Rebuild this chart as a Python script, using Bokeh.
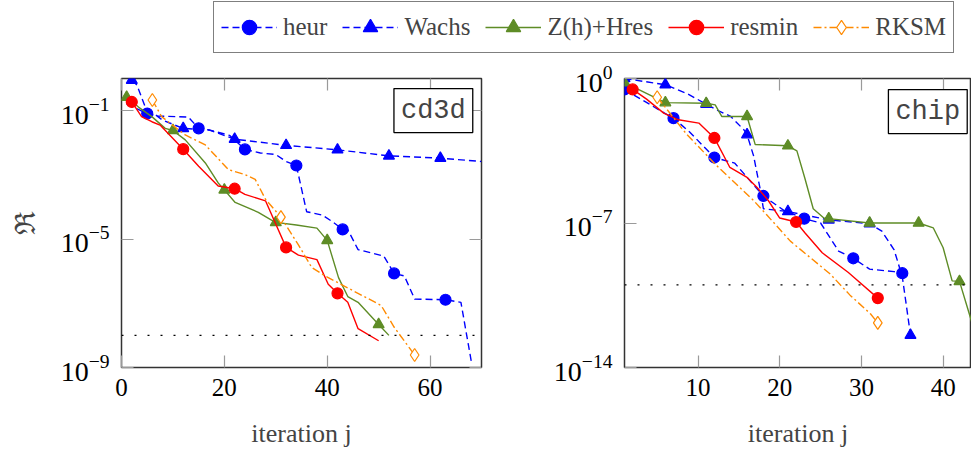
from bokeh.plotting import figure
from bokeh.models import (Legend, LegendItem, FixedTicker, LinearAxis, LogAxis,
                          Span, Label, CustomJSTickFormatter)
from bokeh.layouts import column, row
from bokeh.embed import file_html
from bokeh.resources import INLINE

# ---------------- data: cd3d (left panel) ----------------
heur_L_x = [1, 5, 7, 13, 15, 17, 21, 24, 27, 30, 32, 34, 36, 39, 41, 43, 44, 46, 51, 53, 55, 57, 63, 66, 68]
heur_L_y = [1.6e-1, 8.1e-2, 6.8e-2, 6.3e-2, 2.8e-2, 2.5e-2, 1.7e-2, 6.2e-3, 4.8e-3, 4.3e-3, 2.6e-3, 1.95e-3,
            7.1e-5, 5.6e-5, 3.5e-5, 2.0e-5, 1.95e-5, 4.7e-6, 2.95e-6, 8.5e-7, 7.1e-7, 1.35e-7, 1.29e-7, 1.07e-7, 1.6e-9]
heur_L_marks = [5, 15, 24, 34, 43, 53, 63]

wachs_L_x = [2, 3, 4.6, 8, 12, 17, 22, 32, 42, 52, 62, 70]
wachs_L_y = [8.9e-1, 6.3e-1, 1.32e-1, 5.0e-2, 2.8e-2, 2.5e-2, 1.29e-2, 8.3e-3, 6.0e-3, 3.9e-3, 3.3e-3, 2.6e-3]
wachs_L_marks = [2, 12, 22, 32, 42, 52, 62]

zh_L_x = [1, 3.3, 5.9, 8.5, 10, 12.4, 16.3, 18.8, 20, 22.1, 26.6, 29, 30, 34, 38, 40, 42.2, 44, 46, 50, 52]
zh_L_y = [2.63e-1, 1.29e-1, 6.5e-2, 2.8e-2, 2.4e-2, 1.23e-2, 2.34e-3, 5.6e-4, 3.4e-4, 1.38e-4, 6.8e-5, 4.0e-5,
          3.3e-5, 2.75e-5, 2.19e-5, 9.1e-6, 6.3e-7, 1.62e-7, 1.07e-7, 2.19e-8, 1.0e-8]
zh_L_marks = [1, 10, 20, 30, 40, 50]

resmin_L_x = [2, 3.9, 5.9, 7.5, 12, 15, 18.8, 22, 24, 28, 32, 34.4, 38, 40.2, 42, 44, 46, 50]
resmin_L_y = [1.86e-1, 6.5e-2, 4.5e-2, 3.55e-2, 6.3e-3, 1.86e-3, 4.5e-4, 3.7e-4, 2.45e-4, 1.55e-4, 5.5e-6,
              3.16e-6, 2.29e-6, 3.9e-7, 2.04e-7, 1.07e-7, 1.62e-8, 6.8e-9]
resmin_L_marks = [2, 12, 22, 32, 42]

rksm_L_x = [6, 7.8, 12.4, 16.3, 20.8, 24, 26, 28, 31, 34.4, 37, 39.6, 50.5, 53, 57]
rksm_L_y = [2.14e-1, 6.5e-2, 1.74e-2, 8.5e-3, 1.45e-3, 1.02e-3, 7.2e-4, 1.74e-4, 4.8e-5, 6.6e-6, 1.29e-6,
            7.1e-7, 8.5e-8, 1.82e-8, 2.45e-9]
rksm_L_marks = [6, 31, 57]

tol_L = 1e-8

# ---------------- data: chip (right panel) ----------------
heur_R_x = [1, 3, 6, 7, 9, 12, 14.5, 18, 20.5, 23, 25, 27.2, 29, 31, 34, 35]
heur_R_y = [2.95e-1, 1.0e-1, 2.0e-2, 1.2e-2, 2.5e-3, 1.48e-4, 7.9e-5, 2.04e-6, 4.1e-7, 1.62e-7, 1.0e-7,
            4.4e-9, 1.95e-9, 5.8e-10, 4.4e-10, 3.7e-10]
heur_R_marks = [1, 7, 12, 18, 23, 29, 35]

wachs_R_x = [1, 6, 8.6, 11, 12.3, 14, 15.6, 16, 16.8, 17.6, 18, 21, 26, 31, 32.5, 34, 35, 35.5, 36]
wachs_R_y = [1.0, 5.0e-1, 1.9e-1, 5.75e-2, 3.0e-2, 1.45e-2, 3.3e-3, 1.9e-3, 1.78e-4, 4.5e-6, 4.9e-7, 3.6e-7,
             1.41e-7, 9.3e-8, 4.0e-8, 5.0e-9, 2.5e-10, 1.0e-11, 3.7e-13]
wachs_R_marks = [1, 6, 11, 16, 21, 26, 31, 36]

zh_R_x = [1, 6, 11, 12.1, 12.9, 16, 17, 21, 22.1, 23.1, 24.1, 25.4, 26, 31, 37, 38.8, 40, 41.1, 42, 43.5]
zh_R_y = [6.3e-1, 6.8e-2, 6.3e-2, 5.25e-2, 1.45e-2, 1.45e-2, 6.3e-4, 5.5e-4, 3.1e-4, 1.35e-5, 4.9e-7,
          1.74e-7, 1.62e-7, 1.0e-7, 1.0e-7, 5.75e-8, 6.3e-9, 1.58e-10, 1.48e-10, 1.6e-12]
zh_R_marks = [1, 6, 11, 16, 21, 26, 31, 37, 42]

resmin_R_x = [2, 3.7, 5.8, 7.6, 10.1, 12, 13.9, 16, 17.2, 18.6, 20, 22, 23.1, 25.2, 28.4, 29.1, 32]
resmin_R_y = [2.95e-1, 1.0e-1, 2.1e-2, 1.0e-2, 6.9e-3, 1.32e-3, 4.9e-5, 1.62e-5, 5.4e-6, 1.23e-6, 1.74e-7,
              1.12e-7, 3.3e-8, 3.6e-9, 4.0e-10, 2.3e-10, 2.3e-11]
resmin_R_marks = [2, 12, 22, 32]

rksm_R_x = [5, 6.2, 8.6, 12.3, 16.8, 18.4, 21.3, 26.2, 28.6, 31.1, 32]
rksm_R_y = [1.23e-1, 3.16e-2, 2.0e-3, 5.9e-5, 1.23e-6, 2.5e-7, 1.32e-8, 3.3e-10, 3.2e-11, 4.0e-12, 1.45e-12]
rksm_R_marks = [5, 32]

tol_R = 1e-10

series_names = ["heur", "Wachs", "Z(h)+Hres", "resmin", "RKSM"]
left_ticks_x = [0, 20, 40, 60]
left_ticks_y = [1e-9, 1e-5, 1e-1]
right_ticks_x = [10, 20, 30, 40]
right_ticks_y = [1e-14, 1e-7, 1]

# ---------------- styles ----------------
SERIF = "Liberation Serif"
MONO = "Liberation Mono"
BLUE = "#0000ff"
GREEN = "#5e8c26"
RED = "#ff0000"
ORANGE = "#ff8a00"
TICK = "#9a9a9a"

STYLES = [
    dict(color=BLUE, dash="7 4", width=1.4, marker="circle", size=11, fill=BLUE),
    dict(color=BLUE, dash="7 4", width=1.4, marker="triangle", size=11, fill=BLUE),
    dict(color=GREEN, dash="solid", width=1.4, marker="triangle", size=11, fill=GREEN),
    dict(color=RED, dash="solid", width=1.4, marker="circle", size=11, fill=RED),
    dict(color=ORANGE, dash="8 3 2 3", width=1.4, marker="diamond", size=13, fill="white"),
]

blank = CustomJSTickFormatter(code="return ''")


def draw_series(p, xs, ys, marks, st):
    p.line(xs, ys, line_color=st["color"], line_width=st["width"], line_dash=st["dash"])
    mx = [x for x in xs if x in marks]
    my = [y for x, y in zip(xs, ys) if x in marks]
    p.scatter(mx, my, marker=st["marker"], size=st["size"], line_color=st["color"],
              fill_color=st["fill"], line_width=1.2)


def style_axis(ax):
    ax.major_tick_in = 12
    ax.major_tick_out = 0
    ax.minor_tick_line_color = None
    ax.major_tick_line_color = TICK
    ax.major_tick_line_width = 1.2
    ax.axis_line_color = None
    ax.major_label_text_font = SERIF
    ax.major_label_text_font_size = "25px"
    ax.major_label_text_color = "black"


def panel(width, xr, yr, xt, yt, data, tol, tag, tag_x, tag_y, bl, br, ylabel):
    p = figure(width=width, height=392, x_range=xr, y_range=yr, y_axis_type="log",
               min_border_left=bl, min_border_right=br, min_border_top=20, min_border_bottom=78,
               output_backend="svg", toolbar_location=None)
    p.grid.visible = False
    p.outline_line_color = "#333333"
    p.outline_line_width = 1.5
    p.xaxis.ticker = FixedTicker(ticks=xt)
    p.yaxis.ticker = FixedTicker(ticks=yt)
    for ax in p.xaxis + p.yaxis:
        style_axis(ax)
    p.yaxis.major_label_text_font_size = "28px"
    p.xaxis.major_label_standoff = 11
    p.yaxis.major_label_standoff = 12
    p.xaxis.axis_label = "iteration j"
    p.xaxis.axis_label_text_font = SERIF
    p.xaxis.axis_label_text_font_size = "26px"
    p.xaxis.axis_label_text_font_style = "normal"
    p.xaxis.axis_label_standoff = 20
    if ylabel:
        p.yaxis.axis_label = ylabel
        p.yaxis.axis_label_text_font = "DejaVu Serif"
        p.yaxis.axis_label_text_font_size = "28px"
        p.yaxis.axis_label_text_font_style = "normal"
        p.yaxis.axis_label_standoff = 16
    top = LinearAxis(ticker=FixedTicker(ticks=xt), formatter=blank, major_label_standoff=0)
    style_axis(top)
    p.add_layout(top, "above")
    if br > 0:
        right = LogAxis(ticker=FixedTicker(ticks=yt), formatter=blank, major_label_standoff=0)
        style_axis(right)
        p.add_layout(right, "right")
    for (xs, ys, marks), st in zip(data, STYLES):
        draw_series(p, xs, ys, marks, st)
    p.add_layout(Span(location=tol, dimension="width", line_color="black",
                      line_dash="2 11", line_width=1.3))
    p.add_layout(Label(x=tag_x, y=tag_y, text=tag, text_font=MONO, text_font_size="27px",
                       text_align=("right" if br > 0 else "left"), text_baseline="middle",
                       padding=7, border_line_color="black", border_line_width=1.3,
                       background_fill_color="white"))
    return p


left = panel(498, (0, 70), (1e-9, 1.0), left_ticks_x, left_ticks_y,
             [(heur_L_x, heur_L_y, heur_L_marks), (wachs_L_x, wachs_L_y, wachs_L_marks),
              (zh_L_x, zh_L_y, zh_L_marks), (resmin_L_x, resmin_L_y, resmin_L_marks),
              (rksm_L_x, rksm_L_y, rksm_L_marks)],
             tol_L, "cd3d", 68.3, 0.10, 121, 17, "\u211c")

right = panel(473, (1, 43.47), (1e-14, 1.0), right_ticks_x, right_ticks_y,
              [(heur_R_x, heur_R_y, heur_R_marks), (wachs_R_x, wachs_R_y, wachs_R_marks),
               (zh_R_x, zh_R_y, zh_R_marks), (resmin_R_x, resmin_R_y, resmin_R_marks),
               (rksm_R_x, rksm_R_y, rksm_R_marks)],
              tol_R, "chip", 33.3, 0.025, 126, 0, None)

# ---------------- legend strip ----------------
lg = figure(width=971, height=58, x_range=(0, 1), y_range=(0, 1), min_border=0,
            output_backend="svg", toolbar_location=None, outline_line_color=None)
lg.axis.visible = False
lg.grid.visible = False
hidden_x = [-5, -4]
hidden_y = [-5, -4]
items = []
for name, st in zip(series_names, STYLES):
    r1 = lg.line(hidden_x, hidden_y, line_color=st["color"], line_width=st["width"], line_dash=st["dash"])
    r2 = lg.scatter(hidden_x, hidden_y, marker=st["marker"], size=st["size"] - 1, line_color=st["color"],
                    fill_color=st["fill"], line_width=1.2)
    items.append(LegendItem(label=name, renderers=[r1, r2]))
leg = Legend(items=items, orientation="horizontal", location=(213, 5), margin=0,
             border_line_color="black", border_line_width=1.3, padding=7, spacing=15,
             label_standoff=6, glyph_width=56, glyph_height=36, label_height=36,
             label_text_font=SERIF, label_text_font_size="25px")
lg.add_layout(leg)

layout = column(lg, row(left, right))
open("out.html", "w").write(file_html(layout, INLINE))
